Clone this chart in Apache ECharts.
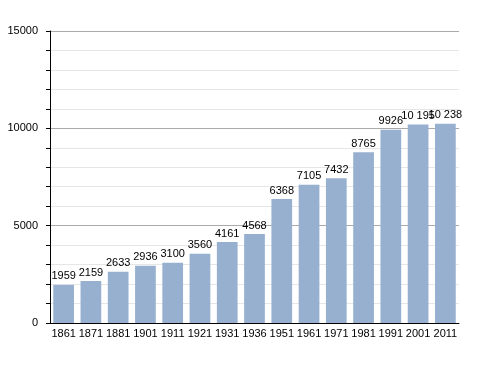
<!DOCTYPE html>
<html><head><meta charset="utf-8">
<script src="https://cdn.jsdelivr.net/npm/echarts@6/dist/echarts.min.js"></script>
<style>html,body{margin:0;padding:0;background:#fff}#c{width:488px;height:373px}</style>
</head><body><div id="c"></div>
<script>
var categories = ['1861','1871','1881','1901','1911','1921','1931','1936','1951','1961','1971','1981','1991','2001','2011'];
var population = [1959,2159,2633,2936,3100,3560,4161,4568,6368,7105,7432,8765,9926,10195,10238];
var valueLabels = ['1959','2159','2633','2936','3100','3560','4161','4568','6368','7105','7432','8765','9926','10 195','10 238'];
var yTicks = [0,5000,10000,15000];

var chart = echarts.init(document.getElementById('c'));
chart.setOption({
  animation:false,
  grid:{left:50,right:29,top:31,bottom:50},
  xAxis:{type:'category',data:categories,
    axisLine:{lineStyle:{color:'#000',width:1}},
    axisTick:{show:false},
    axisLabel:{color:'#000',fontFamily:'Liberation Sans, Arial, sans-serif',fontSize:11,margin:5,interval:0}},
  yAxis:{type:'value',min:yTicks[0],max:yTicks[yTicks.length-1],interval:5000,
    axisLine:{show:true,lineStyle:{color:'#000',width:1}},
    axisTick:{show:true,length:4,lineStyle:{color:'#000'}},
    minorTick:{show:true,splitNumber:5,length:4,lineStyle:{color:'#000'}},
    splitLine:{lineStyle:{color:'#aaaaaa',width:1}},
    minorSplitLine:{show:true,lineStyle:{color:'#e6e6e6',width:1}},
    axisLabel:{color:'#000',fontFamily:'Liberation Sans, Arial, sans-serif',fontSize:11,margin:12,
      formatter:function(v){return String(v);}}},
  series:[{type:'bar',data:population,barCategoryGap:'24%',
    itemStyle:{color:'#97b0cf'},
    label:{show:true,position:'top',distance:3,color:'#000',fontFamily:'Liberation Sans, Arial, sans-serif',fontSize:11,
      formatter:function(p){return valueLabels[p.dataIndex];}}}]
});
</script></body></html>
